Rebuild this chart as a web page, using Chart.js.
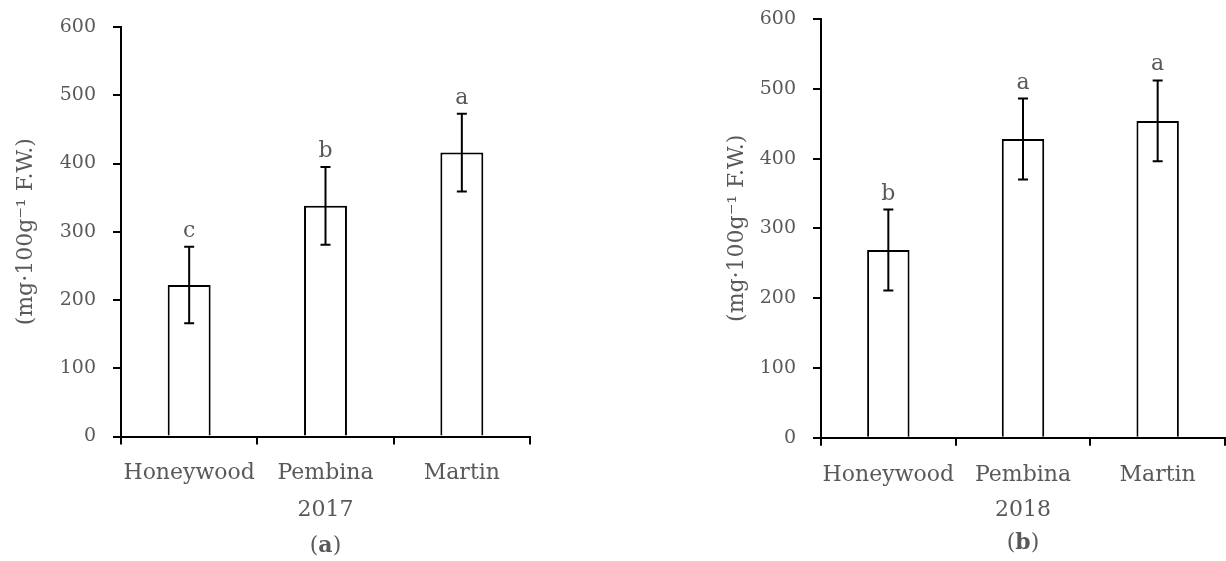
<!DOCTYPE html>
<html>
<head>
<meta charset="utf-8">
<script src="https://cdn.jsdelivr.net/npm/chart.js@4"></script>
<style>
  body { margin: 0; background: #fff; }
  .panel { position: absolute; top: 0; width: 613px; height: 561px; }
</style>
</head>
<body>
<div class="panel" style="left:0"><canvas id="chart2017" width="613" height="561"></canvas></div>
<div class="panel" style="left:613px"><canvas id="chart2018" width="613" height="561"></canvas></div>
<script>
const cultivars = ['Honeywood', 'Pembina', 'Martin'];

const means2017 = [222, 338, 416];
const errors2017 = [56, 57, 57];
const letters2017 = ['c', 'b', 'a'];

const means2018 = [269, 428, 454];
const errors2018 = [58, 58, 58];
const letters2018 = ['b', 'a', 'a'];

const yTicks = [0, 100, 200, 300, 400, 500, 600];

const textColor = '#595959';
const fontFamily = 'DejaVu Serif';

// error bars, significance letters and panel tag
const annotate = {
    id: 'annotate',
    afterDatasetsDraw(chart, args, opts) {
        const ctx = chart.ctx;
        const y = chart.scales.y;
        const meta = chart.getDatasetMeta(0);
        const vals = chart.data.datasets[0].data;
        ctx.save();
        ctx.strokeStyle = '#000';
        ctx.lineWidth = 2;
        meta.data.forEach((bar, i) => {
            const top = y.getPixelForValue(vals[i] + opts.err[i]);
            const bot = y.getPixelForValue(vals[i] - opts.err[i]);
            ctx.beginPath();
            ctx.moveTo(bar.x, top);
            ctx.lineTo(bar.x, bot);
            ctx.moveTo(bar.x - 5, top);
            ctx.lineTo(bar.x + 5, top);
            ctx.moveTo(bar.x - 5, bot);
            ctx.lineTo(bar.x + 5, bot);
            ctx.stroke();

            ctx.fillStyle = textColor;
            ctx.font = '22px "' + fontFamily + '"';
            ctx.textAlign = 'center';
            ctx.textBaseline = 'alphabetic';
            ctx.fillText(opts.letters[i], bar.x, top - 10);
        });

        // "(a)" with bold letter
        const a = chart.chartArea;
        const cx = (a.left + a.right) / 2;
        const normal = '22px "' + fontFamily + '"';
        const bold = 'bold 22px "' + fontFamily + '"';
        ctx.textBaseline = 'middle';
        ctx.textAlign = 'left';
        ctx.font = normal;
        const wp = ctx.measureText('(').width;
        const wc = ctx.measureText(')').width;
        ctx.font = bold;
        const wt = ctx.measureText(opts.tag).width;
        let x = cx - (wp + wt + wc) / 2;
        ctx.fillStyle = textColor;
        ctx.font = normal;
        ctx.fillText('(', x, opts.tagY);
        x += wp;
        ctx.font = bold;
        ctx.fillText(opts.tag, x, opts.tagY);
        x += wt;
        ctx.font = normal;
        ctx.fillText(')', x, opts.tagY);
        ctx.restore();
    }
};

function makeChart(id, means, errs, letters, year, tag, box) {
    return new Chart(document.getElementById(id), {
        type: 'bar',
        data: {
            labels: cultivars,
            datasets: [{
                data: means,
                backgroundColor: '#ffffff',
                borderColor: '#000000',
                borderWidth: 2,
                barPercentage: 0.315,
                categoryPercentage: 1
            }]
        },
        options: {
            responsive: false,
            animation: false,
            layout: { padding: { left: 0, top: box.top, right: box.right, bottom: 0 } },
            plugins: {
                legend: { display: false },
                tooltip: { enabled: false },
                annotate: { err: errs, letters: letters, tag: tag, tagY: box.tagY }
            },
            scales: {
                x: {
                    grid: { drawOnChartArea: false, offset: true, tickLength: 8, color: '#000', lineWidth: 2 },
                    border: { display: true, color: '#000', width: 2 },
                    ticks: { color: textColor, font: { family: fontFamily, size: 22 }, padding: 16, maxRotation: 0 },
                    title: { display: true, text: year, color: textColor, font: { family: fontFamily, size: 22 }, padding: { top: 0, bottom: 38 } },
                    afterFit(s) { s.height = box.xHeight; s.paddingLeft = 0; s.paddingRight = 0; }
                },
                y: {
                    min: 0,
                    max: 600,
                    afterBuildTicks(s) { s.ticks = yTicks.map(v => ({ value: v })); },
                    grid: { drawOnChartArea: false, tickLength: 8, color: '#000', lineWidth: 2 },
                    border: { display: true, color: '#000', width: 2 },
                    ticks: { color: textColor, font: { family: fontFamily, size: 19 }, padding: 17 },
                    title: { display: true, text: '(mg·100g⁻¹ F.W.)', color: textColor, font: { family: fontFamily, size: 22 }, padding: { top: box.titlePad, bottom: 0 } },
                    afterFit(s) { s.width = box.yWidth; s.paddingTop = 0; s.paddingBottom = 0; }
                }
            }
        },
        plugins: [annotate]
    });
}

makeChart('chart2017', means2017, errors2017, letters2017, '2017', 'a',
    { top: 27, right: 83, xHeight: 124.5, yWidth: 121, titlePad: 13, tagY: 546 });
makeChart('chart2018', means2018, errors2018, letters2018, '2018', 'b',
    { top: 19, right: 1, xHeight: 123.3, yWidth: 208, titlePad: 111, tagY: 543 });
</script>
</body>
</html>
